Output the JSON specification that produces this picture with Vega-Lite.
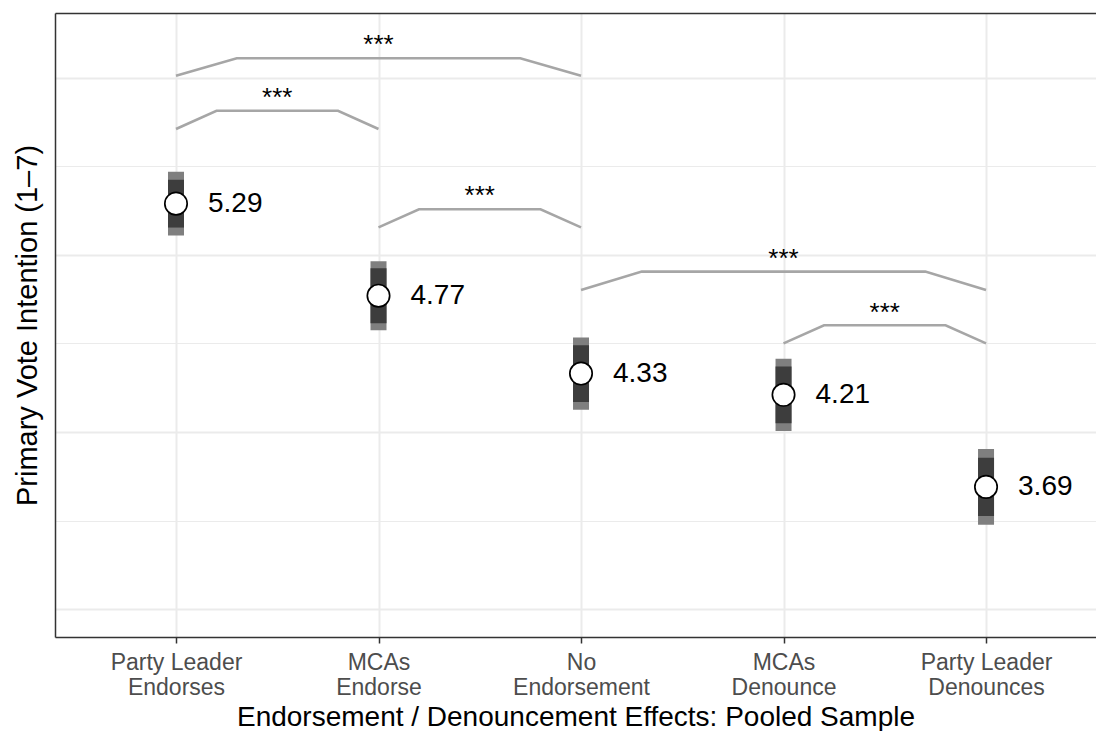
{
  "$schema": "https://vega.github.io/schema/vega-lite/v6.json",
  "width": 1041,
  "height": 624,
  "autosize": {"type": "none"},
  "padding": {"left": 55, "top": 13, "right": 0, "bottom": 94},
  "background": "white",
  "config": {
    "font": "Liberation Sans",
    "view": {"stroke": null}
  },
  "datasets": {
    "est": [
      {"pos": 1, "group": "Party Leader Endorses", "mean": 5.29, "lo_outer": 5.11, "hi_outer": 5.47, "lo_inner": 5.155, "hi_inner": 5.425, "txt": "5.29"},
      {"pos": 2, "group": "MCAs Endorse", "mean": 4.77, "lo_outer": 4.575, "hi_outer": 4.965, "lo_inner": 4.615, "hi_inner": 4.925, "txt": "4.77"},
      {"pos": 3, "group": "No Endorsement", "mean": 4.33, "lo_outer": 4.126, "hi_outer": 4.534, "lo_inner": 4.17, "hi_inner": 4.49, "txt": "4.33"},
      {"pos": 4, "group": "MCAs Denounce", "mean": 4.21, "lo_outer": 4.006, "hi_outer": 4.414, "lo_inner": 4.05, "hi_inner": 4.37, "txt": "4.21"},
      {"pos": 5, "group": "Party Leader Denounces", "mean": 3.69, "lo_outer": 3.476, "hi_outer": 3.904, "lo_inner": 3.526, "hi_inner": 3.854, "txt": "3.69"}
    ],
    "brackets": [
      {"b": 1, "o": 1, "x": 1, "y": 6.013}, {"b": 1, "o": 2, "x": 1.3, "y": 6.111}, {"b": 1, "o": 3, "x": 2.7, "y": 6.111}, {"b": 1, "o": 4, "x": 3, "y": 6.013},
      {"b": 2, "o": 1, "x": 1, "y": 5.712}, {"b": 2, "o": 2, "x": 1.2, "y": 5.815}, {"b": 2, "o": 3, "x": 1.8, "y": 5.815}, {"b": 2, "o": 4, "x": 2, "y": 5.712},
      {"b": 3, "o": 1, "x": 2, "y": 5.156}, {"b": 3, "o": 2, "x": 2.2, "y": 5.258}, {"b": 3, "o": 3, "x": 2.8, "y": 5.258}, {"b": 3, "o": 4, "x": 3, "y": 5.156},
      {"b": 4, "o": 1, "x": 3, "y": 4.802}, {"b": 4, "o": 2, "x": 3.3, "y": 4.906}, {"b": 4, "o": 3, "x": 4.7, "y": 4.906}, {"b": 4, "o": 4, "x": 5, "y": 4.802},
      {"b": 5, "o": 1, "x": 4, "y": 4.501}, {"b": 5, "o": 2, "x": 4.2, "y": 4.603}, {"b": 5, "o": 3, "x": 4.8, "y": 4.603}, {"b": 5, "o": 4, "x": 5, "y": 4.501}
    ],
    "stars": [
      {"x": 2, "y": 6.185, "s": "***"},
      {"x": 1.5, "y": 5.885, "s": "***"},
      {"x": 2.5, "y": 5.335, "s": "***"},
      {"x": 4, "y": 4.975, "s": "***"},
      {"x": 4.5, "y": 4.675, "s": "***"}
    ]
  },
  "layer": [
    {
      "data": {"name": "est"},
      "mark": {"type": "rule", "strokeWidth": 16, "color": "#7f7f7f", "strokeCap": "butt"},
      "encoding": {
        "x": {
          "field": "pos", "type": "quantitative",
          "scale": {"domain": [0.4025, 5.543], "nice": false, "zero": false},
          "axis": {
            "orient": "bottom",
            "values": [1, 2, 3, 4, 5],
            "labelExpr": "datum.value == 1 ? ['Party Leader','Endorses'] : datum.value == 2 ? ['MCAs','Endorse'] : datum.value == 3 ? ['No','Endorsement'] : datum.value == 4 ? ['MCAs','Denounce'] : ['Party Leader','Denounces']",
            "labelFontSize": 23,
            "labelColor": "#4d4d4d",
            "labelLineHeight": 25,
            "labelBaseline": "top",
            "labelPadding": 8,
            "labelFlush": false,
            "labelOverlap": false,
            "ticks": true,
            "tickSize": 6,
            "tickWidth": 1.5,
            "tickColor": "#333333",
            "domain": true,
            "domainColor": "#333333",
            "domainWidth": 1.5,
            "grid": true,
            "gridColor": "#ebebeb",
            "gridWidth": 2,
            "title": "Endorsement / Denouncement Effects: Pooled Sample",
            "titleFontSize": 28,
            "titleFontWeight": "normal",
            "titleColor": "#000000",
            "titlePadding": 4
          }
        },
        "y": {
          "field": "lo_outer", "type": "quantitative",
          "scale": {"domain": [2.842, 6.367], "nice": false, "zero": false},
          "axis": {
            "orient": "left",
            "values": [3, 4, 5, 6],
            "labels": false,
            "ticks": false,
            "domain": true,
            "domainColor": "#333333",
            "domainWidth": 1.5,
            "grid": true,
            "gridColor": "#ebebeb",
            "gridWidth": 2,
            "title": "Primary Vote Intention (1–7)",
            "titleFontSize": 29,
            "titleFontWeight": "normal",
            "titleColor": "#000000",
            "titlePadding": 13
          }
        },
        "y2": {"field": "hi_outer"}
      }
    },
    {
      "data": {"name": "est"},
      "mark": {"type": "rule", "strokeWidth": 16, "color": "#3d3d3d", "strokeCap": "butt"},
      "encoding": {
        "x": {
          "field": "pos", "type": "quantitative",
          "axis": {
            "orient": "top",
            "labels": false,
            "ticks": false,
            "grid": false,
            "domain": true,
            "domainColor": "#333333",
            "domainWidth": 1.5,
            "title": null
          }
        },
        "y": {
          "field": "lo_inner", "type": "quantitative",
          "axis": {
            "orient": "right",
            "values": [3.5, 4.5, 5.5],
            "labels": false,
            "ticks": false,
            "domain": false,
            "grid": true,
            "gridColor": "#ebebeb",
            "gridWidth": 1.2,
            "title": null
          }
        },
        "y2": {"field": "hi_inner"}
      }
    },
    {
      "data": {"name": "brackets"},
      "mark": {"type": "line", "color": "#a6a6a6", "strokeWidth": 2.6},
      "encoding": {
        "x": {"field": "x", "type": "quantitative", "axis": null},
        "y": {"field": "y", "type": "quantitative", "axis": null},
        "detail": {"field": "b"},
        "order": {"field": "o"}
      }
    },
    {
      "data": {"name": "stars"},
      "mark": {"type": "text", "fontSize": 26, "color": "#000000", "baseline": "middle", "align": "center"},
      "encoding": {
        "x": {"field": "x", "type": "quantitative", "axis": null},
        "y": {"field": "y", "type": "quantitative", "axis": null},
        "text": {"field": "s"}
      }
    },
    {
      "data": {"name": "est"},
      "mark": {"type": "point", "shape": "circle", "size": 500, "filled": true, "fill": "#ffffff", "stroke": "#000000", "strokeWidth": 1.7, "opacity": 1},
      "encoding": {
        "x": {"field": "pos", "type": "quantitative", "axis": null},
        "y": {"field": "mean", "type": "quantitative", "axis": null}
      }
    },
    {
      "data": {"name": "est"},
      "mark": {"type": "text", "fontSize": 28, "color": "#000000", "baseline": "middle", "align": "left", "dx": 32},
      "encoding": {
        "x": {"field": "pos", "type": "quantitative", "axis": null},
        "y": {"field": "mean", "type": "quantitative", "axis": null},
        "text": {"field": "txt"}
      }
    }
  ],
  "resolve": {"axis": {"x": "independent", "y": "independent"}}
}
